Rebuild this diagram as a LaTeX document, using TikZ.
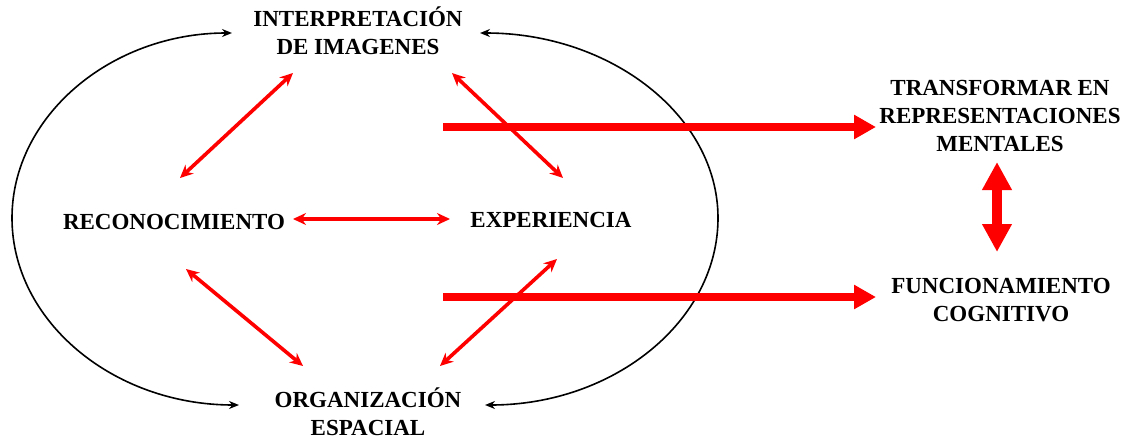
\documentclass[tikz,border=0pt]{standalone}
\usepackage{fontspec}
\setmainfont{Liberation Serif}
\usetikzlibrary{arrows.meta}
\tikzset{
  lbl/.style={anchor=base, inner sep=0pt, font=\bfseries\fontsize{23}{28}\selectfont},
  thin/.style={draw=red, line width=3.6pt, {Stealth[length=13pt,width=12pt]}-{Stealth[length=13pt,width=12pt]}},
  thick/.style={draw=red, line width=8pt, -{Triangle[length=22pt,width=23pt]}},
  dbl/.style={draw=red, line width=10pt, {Triangle[length=28pt,width=28pt]}-{Triangle[length=28pt,width=28pt]}},
  arc/.style={draw=black, line width=1.6pt, {Stealth[length=10pt,width=8pt]}-{Stealth[length=10pt,width=8pt]}}
}
\newcommand{\two}[2]{\begin{tabular}[t]{@{}c@{}}#1\\#2\end{tabular}}
\newcommand{\three}[3]{\begin{tabular}[t]{@{}c@{}}#1\\#2\\#3\end{tabular}}
\begin{document}
\begin{tikzpicture}[x=1pt,y=-1pt]
\useasboundingbox (0,0) rectangle (1129,439);
% text nodes
\node[lbl] (interp) at (358,27) {\two{INTERPRETACIÓN}{DE IMAGENES}};
\node[lbl] (reco) at (174,229) {RECONOCIMIENTO};
\node[lbl] (exp) at (551,227) {EXPERIENCIA};
\node[lbl] (org) at (368,407) {\two{ORGANIZACIÓN}{ESPACIAL}};
\node[lbl] (trans) at (1000,95) {\three{TRANSFORMAR EN}{REPRESENTACIONES}{MENTALES}};
\node[lbl] (func) at (1001,293) {\two{FUNCIONAMIENTO}{COGNITIVO}};
% connector end points
\coordinate (ir1) at (293,73);  \coordinate (ir2) at (180,178);
\coordinate (ie1) at (452,73);  \coordinate (ie2) at (563,178);
\coordinate (re1) at (293,219); \coordinate (re2) at (450,219);
\coordinate (ro1) at (186,269); \coordinate (ro2) at (303,366);
\coordinate (eo1) at (557,259); \coordinate (eo2) at (440,366);
\coordinate (t1) at (443,127);  \coordinate (t2) at (876,127);
\coordinate (f1) at (443,297);  \coordinate (f2) at (876,297);
\coordinate (d1) at (997,162);  \coordinate (d2) at (997,252);
\coordinate (lt) at (232,33);   \coordinate (lm) at (12,218);  \coordinate (lb) at (239,405);
\coordinate (rt) at (480,33);   \coordinate (rm) at (718,218); \coordinate (rb) at (485,405);
% black arcs
\draw[arc] (lt) .. controls (111,33) and (12,116) .. (lm) .. controls (12,321) and (113,405) .. (lb);
\draw[arc] (rt) .. controls (611,33) and (718,116) .. (rm) .. controls (718,321) and (614,405) .. (rb);
% red arrows
\draw[thick] (t1) -- (t2);
\draw[thick] (f1) -- (f2);
\draw[thin] (ir1) -- (ir2);
\draw[thin] (ie1) -- (ie2);
\draw[thin] (re1) -- (re2);
\draw[thin] (ro1) -- (ro2);
\draw[thin] (eo1) -- (eo2);
\draw[dbl] (d1) -- (d2);
\end{tikzpicture}
\end{document}
